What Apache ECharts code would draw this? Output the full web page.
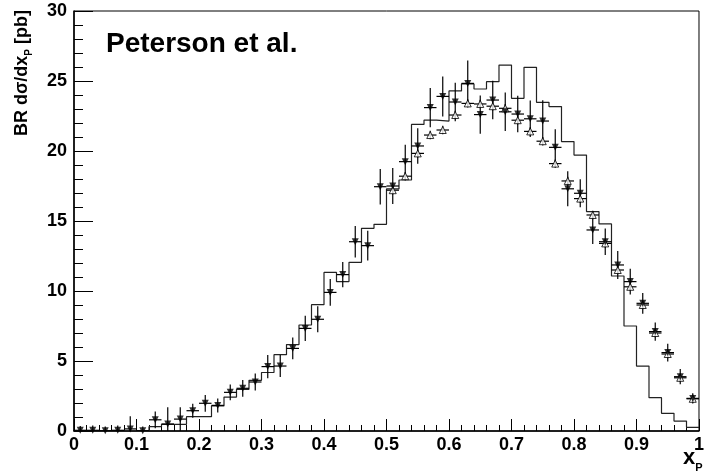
<!DOCTYPE html>
<html>
<head>
<meta charset="utf-8">
<script src="https://cdn.jsdelivr.net/npm/echarts@6/dist/echarts.min.js"></script>
<style>
html,body{margin:0;padding:0;background:#fff;}
#chart{width:707px;height:473px;}
</style>
</head>
<body>
<div id="chart"></div>
<script>
// bin centres (x_P), 50 bins of width 0.02
var binCenters = [0.01,0.03,0.05,0.07,0.09,0.11,0.13,0.15,0.17,0.19,
  0.21,0.23,0.25,0.27,0.29,0.31,0.33,0.35,0.37,0.39,
  0.41,0.43,0.45,0.47,0.49,0.51,0.53,0.55,0.57,0.59,
  0.61,0.63,0.65,0.67,0.69,0.71,0.73,0.75,0.77,0.79,
  0.81,0.83,0.85,0.87,0.89,0.91,0.93,0.95,0.97,0.99];
var binWidth = 0.02;

// Histogram (Peterson et al.)
var histValues = [0,0,0,0,0,0,0.31,0.48,0.48,1.02,
  1.02,1.79,2.42,2.98,3.62,4.18,5.45,6.17,7.57,9.02,
  11.33,10.67,12.05,14.48,14.76,17.29,17.93,21.9,22.2,22.14,
  24.29,24.79,24.43,24.95,26.14,23.76,25.98,23.48,23.17,20.67,
  19.71,15.67,14.79,11.07,7.5,4.64,2.38,1.26,0.71,0.26];

// filled down-triangles with errors
var filledValues = [0.05,0.05,0.02,0.05,0.15,0.02,0.8,0.5,0.85,1.45,
  1.98,1.83,2.76,3.05,3.5,4.6,4.64,5.9,7.33,7.98,
  9.9,11.17,13.52,13.24,17.45,17.5,19.24,20.36,23.1,23.9,
  23.5,24.83,22.6,23.64,22.8,22.64,22.3,22.14,20.26,17.3,
  16.98,14.36,13.52,11.86,10.67,9.12,7.1,5.6,3.88,2.33];
var filledErrors = [0.3,0.35,0.3,0.35,0.9,0.3,0.6,1.2,0.85,0.5,
  0.6,0.5,0.57,0.6,0.6,0.83,0.78,0.78,0.9,0.93,
  0.95,0.9,1.13,1.07,1.27,1.29,1.2,1.27,1.4,1.43,
  1.37,1.64,1.37,1.37,1.37,1.3,1.3,1.49,1.3,1.25,
  1.0,1.0,0.95,1.0,0.92,0.74,0.65,0.63,0.54,0.36];

// open up-triangles with errors
var openValues = [null,null,null,null,null,null,null,null,null,null,
  null,null,null,null,null,null,null,null,null,null,
  null,null,null,null,null,17.2,18.2,19.83,21.14,21.5,
  22.57,23.4,23.36,23.2,23.05,22.2,21.4,20.7,19.1,17.86,
  16.6,15.43,13.4,11.5,10.3,9.0,7.0,5.5,3.8,2.3];
var openErrors = [0,0,0,0,0,0,0,0,0,0,
  0,0,0,0,0,0,0,0,0,0,
  0,0,0,0,0,0.3,0.3,0.3,0.3,0.3,
  0.3,0.3,0.3,0.3,0.3,0.3,0.3,0.3,0.3,0.3,
  0.3,0.3,0.3,0.3,0.3,0.3,0.3,0.3,0.3,0.3];

var xTicks = [0,0.1,0.2,0.3,0.4,0.5,0.6,0.7,0.8,0.9,1];
var yTicks = [0,5,10,15,20,25,30];

// build step-line points from histogram bins
var histLine = [];
for (var i = 0; i < binCenters.length; i++) {
  histLine.push([binCenters[i] - binWidth/2, histValues[i]]);
  histLine.push([binCenters[i] + binWidth/2, histValues[i]]);
}
var filledData = [], openData = [];
for (var j = 0; j < binCenters.length; j++) {
  filledData.push([binCenters[j], filledValues[j], filledErrors[j]]);
  if (openValues[j] !== null) openData.push([binCenters[j], openValues[j], openErrors[j]]);
}

function errRender(params, api) {
  var x = api.value(0), y = api.value(1), e = api.value(2);
  var c = api.coord([x, y]);
  var t = api.coord([x, y + e]);
  var b = api.coord([x, Math.max(0, y - e)]);
  var l = api.coord([x - binWidth/2, y]);
  var r = api.coord([x + binWidth/2, y]);
  var st = {stroke: '#000', lineWidth: 1.2};
  return {type: 'group', children: [
    {type: 'line', shape: {x1: c[0], y1: t[1], x2: c[0], y2: b[1]}, style: st},
    {type: 'line', shape: {x1: l[0], y1: c[1], x2: r[0], y2: c[1]}, style: st}
  ]};
}

var FONT = 'Liberation Sans, Arial, Helvetica, sans-serif';
var chart = echarts.init(document.getElementById('chart'), null, {renderer: 'canvas'});
chart.setOption({
  animation: false,
  backgroundColor: '#fff',
  grid: {left: 74, right: 4, top: 11, bottom: 42, show: true, borderColor: '#000', borderWidth: 1, backgroundColor: 'transparent'},
  xAxis: {
    type: 'value', min: xTicks[0], max: xTicks[xTicks.length-1], interval: 0.1,
    axisLine: {show: true, onZero: false, lineStyle: {color: '#000', width: 1.5}},
    axisTick: {show: true, inside: true, length: 12, lineStyle: {color: '#000', width: 1}},
    minorTick: {show: true, splitNumber: 5, length: 6, lineStyle: {color: '#000', width: 1}},
    splitLine: {show: false},
    axisLabel: {show: true, margin: 5, color: '#000', fontFamily: FONT, fontWeight: 'bold', fontSize: 18, showMinLabel: true, showMaxLabel: true,
      formatter: function (v) { return String(Math.round(v*10)/10); }}
  },
  yAxis: {
    type: 'value', min: yTicks[0], max: yTicks[yTicks.length-1], interval: 5,
    axisLine: {show: true, onZero: false, lineStyle: {color: '#000', width: 1.5}},
    axisTick: {show: true, inside: true, length: 19, lineStyle: {color: '#000', width: 1}},
    minorTick: {show: true, splitNumber: 5, length: 9, lineStyle: {color: '#000', width: 1}},
    splitLine: {show: false},
    axisLabel: {show: true, margin: 7, color: '#000', fontFamily: FONT, fontWeight: 'bold', fontSize: 18, showMinLabel: true, showMaxLabel: true}
  },
  graphic: [
    {type: 'text', left: 106, top: 30, z: 100,
      style: {text: 'Peterson et al.', fill: '#000', font: 'bold 28px ' + FONT}},
    {type: 'text', x: 22, y: 10, rotation: Math.PI/2, z: 100,
      style: {text: '{a|BR dσ/dx}{b|P}{a| [pb]}', align: 'right', verticalAlign: 'middle',
        rich: {a: {fontFamily: FONT, fontWeight: 'bold', fontSize: 18, fill: '#000', verticalAlign: 'bottom'},
               b: {fontFamily: FONT, fontWeight: 'bold', fontSize: 10, fill: '#000', verticalAlign: 'bottom', padding: [0,0,-3,0]}}}},
    {type: 'text', x: 683, y: 458, z: 100,
      style: {text: '{a|x}{b|P}', align: 'left', verticalAlign: 'middle',
        rich: {a: {fontFamily: FONT, fontWeight: 'bold', fontSize: 22, fill: '#000', verticalAlign: 'bottom'},
               b: {fontFamily: FONT, fontWeight: 'bold', fontSize: 11, fill: '#000', verticalAlign: 'bottom', padding: [0,0,-4,0]}}}}
  ],
  series: [
    {type: 'line', data: histLine, showSymbol: false, symbol: 'none',
      lineStyle: {color: '#222', width: 1.2}, z: 2, clip: true},
    {type: 'custom', data: openData, renderItem: errRender, z: 3, clip: true},
    {type: 'custom', data: filledData, renderItem: errRender, z: 3, clip: true},
    {type: 'scatter', data: openData, symbol: 'triangle', symbolSize: 7, z: 4,
      itemStyle: {color: '#fff', borderColor: '#000', borderWidth: 1}},
    {type: 'scatter', data: filledData, symbol: 'triangle', symbolRotate: 180, symbolSize: 7, z: 5,
      itemStyle: {color: '#000'}}
  ]
});
</script>
</body>
</html>
